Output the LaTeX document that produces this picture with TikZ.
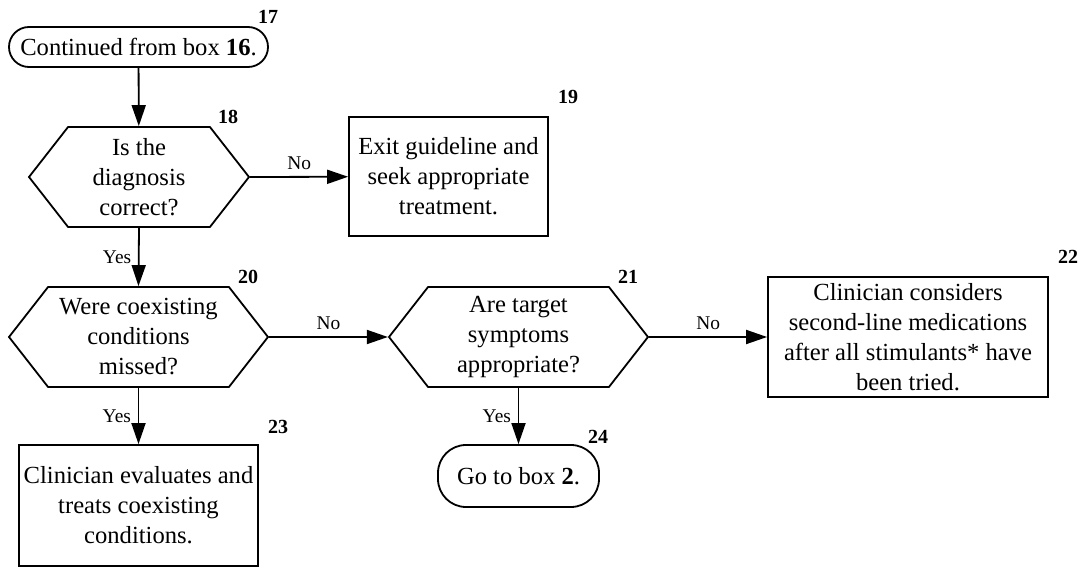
\documentclass[tikz,border=0pt]{standalone}
\usepackage{fontspec}
\setmainfont{Liberation Serif}
\usetikzlibrary{shapes.symbols, arrows.meta, positioning}

\tikzset{
    base/.style={draw, line width=0.9pt, align=center, inner sep=1pt,
        font=\fontsize{12.3}{15}\selectfont},
    terminal/.style={base, rounded corners=10pt},
    process/.style={base},
    decision/.style={base, signal, signal to=west and east, signal pointer angle=104,
        minimum height=50pt},
    num/.style={font=\fontsize{10}{12}\selectfont\bfseries, inner sep=0pt},
    lbl/.style={font=\fontsize{9.7}{11}\selectfont},
    flow/.style={line width=0.9pt, -{Triangle[length=10.5pt,width=7pt]}}
}

\begin{document}
\begin{tikzpicture}[x=0.5pt, y=-0.5pt]
    \useasboundingbox (0,0) rectangle (1083,567);

    \node[terminal, minimum width=129.5pt, minimum height=20pt] (b17) at (138.5,47)
        {Continued from box \textbf{16}.};
    \node[decision, minimum width=110pt] (d18) at (139,177)
        {Is the\\diagnosis\\correct?};
    \node[process, minimum width=99.5pt, minimum height=59.5pt] (b19) at (448.5,176.5)
        {Exit guideline and\\seek appropriate\\treatment.};
    \node[decision, minimum width=129.5pt] (d20) at (138.5,337)
        {Were coexisting\\conditions\\missed?};
    \node[decision, minimum width=129.5pt] (d21) at (518.5,337)
        {Are target\\symptoms\\appropriate?};
    \node[process, minimum width=140pt, minimum height=60pt] (b22) at (908,337)
        {Clinician considers\\second-line medications\\after all stimulants* have\\been tried.};
    \node[process, minimum width=119.5pt, minimum height=60.5pt] (b23) at (138.5,505.5)
        {Clinician evaluates and\\treats coexisting\\conditions.};
    \node[terminal, rounded corners=14pt, minimum width=80.5pt, minimum height=31pt] (b24) at (518.5,476)
        {Go to box \textbf{2}.};

    \node[num] (n17) at (268,17) {17};
    \node[num] (n18) at (228,117) {18};
    \node[num] (n19) at (568,97) {19};
    \node[num] (n20) at (248,277) {20};
    \node[num] (n21) at (628,277) {21};
    \node[num] (n22) at (1068,257) {22};
    \node[num] (n23) at (278,427) {23};
    \node[num] (n24) at (598,437) {24};

    \draw[flow] (b17) -- (d18);
    \draw[flow] (d18.east) -- node[lbl, above] {No} (b19);
    \draw[flow] (d18.south) -- node[lbl, left] {Yes} (d20.north);
    \draw[flow] (d20.east) -- node[lbl, above] {No} (d21.west);
    \draw[flow] (d20.south) -- node[lbl, left] {Yes} (b23.north);
    \draw[flow] (d21.east) -- node[lbl, above] {No} (b22);
    \draw[flow] (d21.south) -- node[lbl, left] {Yes} (b24.north);
\end{tikzpicture}
\end{document}
